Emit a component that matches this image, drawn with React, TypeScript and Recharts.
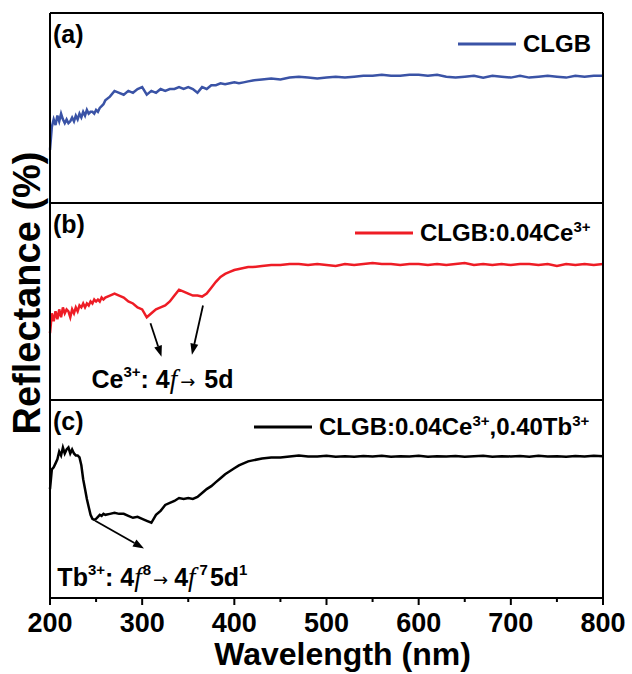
import React from "react";
import { LineChart, Line, XAxis, YAxis, ReferenceLine, ReferenceDot, Legend } from "recharts";

// wavelength grid (nm)
const wavelengths = [
  200, 202, 204, 206, 208, 210, 212, 214, 216, 218, 220, 222, 224, 226, 228, 230,
  232, 234, 236, 238, 240, 242, 244, 246, 248, 250, 252, 254, 256, 258, 260,
  265, 270, 275, 280, 285, 290, 295, 300, 305, 310, 315, 320, 325, 330, 335, 340,
  345, 350, 355, 360, 365, 370, 375, 380, 385, 390, 395, 400, 405, 410, 415, 420,
  430, 440, 450, 460, 470, 480, 490, 500, 510, 520, 530, 540, 550, 560, 570, 580,
  590, 600, 610, 620, 630, 640, 650, 660, 670, 680, 690, 700, 710, 720, 730, 740,
  750, 760, 770, 780, 790, 800,
];

// (a) CLGB
const clgb = [
  28, 40, 44, 41, 46, 43, 47, 44, 42, 44, 42, 43, 45, 43, 46, 44,
  47, 45, 48, 46, 49, 47, 48, 48, 47, 49, 48, 50, 51, 52, 54,
  56, 59, 58, 57, 59, 58, 60, 61, 57, 59, 58, 60, 59, 60, 60, 61,
  60, 61, 60, 58, 61, 60, 62, 62, 63, 62.5, 63, 63.5, 63, 63.5, 64, 64.5,
  65, 65.5, 65, 66, 66.5, 66, 65.5, 66, 66.5, 66, 66.5, 67, 67, 67.5, 67, 67,
  67.5, 67.5, 67, 67.5, 66.5, 66, 66.5, 67, 66, 67, 66.5, 66, 67, 66, 66.5, 67,
  66.5, 66, 67, 66.5, 67, 67,
];

// (b) CLGB:0.04Ce3+
const clgbCe = [
  34, 44, 40, 45, 41, 46, 42, 47, 44, 46, 45, 42, 46, 44, 47, 45,
  48, 47, 49, 47, 49, 48, 50, 49, 51, 50, 51, 50, 52, 51, 52,
  53, 54, 53, 52, 50, 49, 47, 46, 42, 44, 46, 47, 48, 50, 53, 56,
  55, 54, 53, 53, 52.5, 54, 57, 60, 62.5, 64, 65, 66, 66.5, 67, 67.5, 67.5,
  68, 68.5, 68.5, 69, 69, 68.5, 69, 68.5, 68, 69, 68.5, 69, 69.5, 69, 69, 68.5,
  69, 69, 68.5, 69, 68.5, 69, 69.5, 68.5, 69, 68.5, 69, 68.5, 69, 69, 68.5, 69,
  68, 69, 68.5, 69, 68.5, 69,
];

// (c) CLGB:0.04Ce3+,0.40Tb3+
const clgbCeTb = [
  55, 65, 66, 68, 70, 74, 72, 76, 73, 75, 76, 73, 75, 73, 72, 72,
  71, 67, 60, 55, 50, 46, 42, 40, 39.5, 40, 41, 42, 41.5, 42.5, 42,
  42.5, 43, 42.5, 42.5, 41.5, 40.5, 41, 40, 39, 38, 42, 44, 47, 48, 49, 50.5,
  50, 50.5, 50, 51, 53, 55, 56.5, 58.5, 60.5, 62.5, 64, 65.5, 67, 68, 69, 69.5,
  70.5, 71, 71, 71.5, 72, 71.5, 71.5, 71.8, 71.4, 71.6, 71.3, 71.7, 71.5, 71.8, 71.4, 71.6,
  71.5, 71.8, 71.3, 71.6, 71.5, 71.7, 71.4, 71.6, 71.8, 71.3, 71.6, 71.5, 71.7, 71.4, 71.8, 71.5,
  71.6, 71.3, 71.7, 71.5, 71.9, 71.6,
];

const xTicks = [200, 250, 300, 350, 400, 450, 500, 550, 600, 650, 700, 750, 800];

const data = wavelengths.map((w, i) => ({ w, a: clgb[i], b: clgbCe[i], c: clgbCeTb[i] }));

const FONT = "'Liberation Sans', Arial, sans-serif";
const SERIF = "'Liberation Serif', 'Times New Roman', serif";
const W = 632;

const Arrow = (p: any) => {
  const { x1, y1, x2, y2 } = p;
  const dx = x2 - x1;
  const dy = y2 - y1;
  const len = Math.sqrt(dx * dx + dy * dy) || 1;
  const ux = dx / len;
  const uy = dy / len;
  const hl = 11;
  const hw = 4;
  const bx = x2 - ux * hl;
  const by = y2 - uy * hl;
  return (
    <g>
      <line x1={x1} y1={y1} x2={bx} y2={by} stroke="#000" strokeWidth={1.8} />
      <polygon
        points={`${x2},${y2} ${bx - uy * hw},${by + ux * hw} ${bx + uy * hw},${by - ux * hw}`}
        fill="#000"
      />
    </g>
  );
};

const panelLabel = (txt: string) => (p: any) => (
  <text x={p.cx + 3} y={p.cy + 30} fontSize={25} fontWeight="bold" fill="#000" fontFamily={FONT}>
    {txt}
  </text>
);

const legendContent = (color: string, name: React.ReactNode) => () => (
  <div style={{ display: "flex", alignItems: "center", fontFamily: FONT, fontWeight: "bold", fontSize: 24, whiteSpace: "nowrap" }}>
    <svg width={58} height={6} style={{ marginRight: 7 }}>
      <line x1={0} y1={3} x2={58} y2={3} stroke={color} strokeWidth={3} />
    </svg>
    <span>{name}</span>
  </div>
);

const supStyle: React.CSSProperties = { fontSize: 15, verticalAlign: "super", lineHeight: 0 };

const CeNote = (p: any) => (
  <text x={p.cx} y={p.cy} fontSize={25} fontWeight="bold" fill="#000" fontFamily={FONT}>
    <tspan>Ce</tspan>
    <tspan dy={-11} fontSize={15}>3+</tspan>
    <tspan dy={11}>: 4</tspan>
    <tspan fontFamily={SERIF} fontStyle="italic" fontWeight="normal" fontSize={27}>f</tspan>
    <tspan fontWeight="normal" fontSize={18} fontFamily="'DejaVu Sans', sans-serif" dx={3}>→</tspan>
    <tspan dx={9}>5d</tspan>
  </text>
);

const TbNote = (p: any) => (
  <text x={p.cx} y={p.cy} fontSize={25} fontWeight="bold" fill="#000" fontFamily={FONT}>
    <tspan>Tb</tspan>
    <tspan dy={-11} fontSize={15}>3+</tspan>
    <tspan dy={11}>: 4</tspan>
    <tspan fontFamily={SERIF} fontStyle="italic" fontWeight="normal" fontSize={27}>f</tspan>
    <tspan dy={-11} fontSize={15} dx={1}>8</tspan>
    <tspan dy={11} fontWeight="normal" fontSize={18} fontFamily="'DejaVu Sans', sans-serif" dx={2}>→</tspan>
    <tspan dx={6}>4</tspan>
    <tspan fontFamily={SERIF} fontStyle="italic" fontWeight="normal" fontSize={27}>f</tspan>
    <tspan dy={-11} fontSize={15} dx={4}>7</tspan>
    <tspan dy={11} dx={2}>5d</tspan>
    <tspan dy={-11} fontSize={15}>1</tspan>
  </text>
);

const BottomTick = (p: any) => {
  const { x, y, payload } = p;
  const major = payload.value % 100 === 0;
  return (
    <g>
      <line x1={x} x2={x} y1={y} y2={y + (major ? 7 : 4)} stroke="#000" strokeWidth={2} />
      {major && (
        <text x={x} y={y + 34} textAnchor="middle" fontSize={27} fontWeight="bold" fill="#000" fontFamily={FONT}>
          {payload.value}
        </text>
      )}
    </g>
  );
};

const XTitle = (p: any) => {
  const vb = p.viewBox || {};
  return (
    <text
      x={vb.x + vb.width / 2 + 16}
      y={vb.y + 67}
      textAnchor="middle"
      fontSize={32}
      fontWeight="bold"
      fill="#000"
      fontFamily={FONT}
    >
      Wavelength (nm)
    </text>
  );
};

interface PanelProps {
  top: number;
  height: number;
  marginTop: number;
  dataKey: string;
  color: string;
  label: string;
  legend: React.ReactNode;
  legendLeft: number;
  legendTop: number;
  bottomAxis?: boolean;
  children?: React.ReactNode;
}

const border = { stroke: "#000", strokeWidth: 2 };

function Panel(props: PanelProps) {
  const { top, height, marginTop, dataKey, color, label, legend, legendLeft, legendTop, bottomAxis } = props;
  return (
    <div style={{ position: "absolute", left: 0, top }}>
      <LineChart
        width={W}
        height={height}
        data={data}
        margin={{ top: marginTop, bottom: 0, left: 49, right: 28 }}
        style={{ fontFamily: FONT }}
      >
        <XAxis
          dataKey="w"
          type="number"
          domain={[200, 800]}
          ticks={xTicks}
          interval={0}
          axisLine={border}
          tickLine={false}
          tickSize={0}
          tickMargin={0}
          tick={bottomAxis ? <BottomTick /> : false}
          height={bottomAxis ? 76 : 1}
          label={bottomAxis ? <XTitle /> : undefined}
        />
        <XAxis xAxisId="top" orientation="top" type="number" domain={[200, 800]} height={1} tick={false} tickLine={false} axisLine={border} />
        <YAxis type="number" domain={[0, 100]} width={1} tick={false} tickLine={false} axisLine={border} />
        <YAxis yAxisId="right" orientation="right" type="number" domain={[0, 100]} width={1} tick={false} tickLine={false} axisLine={border} />
        <Legend
          layout="horizontal"
          verticalAlign="middle"
          align="center"
          content={legendContent(color, legend)}
          wrapperStyle={{ left: legendLeft, top: legendTop, width: "auto", transform: "translateY(-50%)" }}
        />
        <Line dataKey={dataKey} stroke={color} strokeWidth={2.5} dot={false} isAnimationActive={false} type="linear" />
        <ReferenceDot x={200} y={100} r={0} shape={panelLabel(label)} />
        {props.children}
      </LineChart>
    </div>
  );
}

export default function App() {
  return (
    <div style={{ position: "absolute", left: 0, top: 0, width: 632, height: 674, background: "#fff", fontFamily: FONT, overflow: "hidden" }}>
      <Panel
        top={0}
        height={204}
        marginTop={12}
        dataKey="a"
        color="#3a53a6"
        label="(a)"
        legend="CLGB"
        legendLeft={458}
        legendTop={44}
      />
      <Panel
        top={202}
        height={199}
        marginTop={0}
        dataKey="b"
        color="#ee1c25"
        label="(b)"
        legend={<span>CLGB:0.04Ce<sup style={supStyle}>3+</sup></span>}
        legendLeft={355}
        legendTop={31}
      >
        <ReferenceLine segment={[{ x: 309, y: 39 }, { x: 321, y: 22 }]} shape={Arrow} />
        <ReferenceLine segment={[{ x: 366, y: 48 }, { x: 354, y: 23 }]} shape={Arrow} />
        <ReferenceDot x={245} y={6} r={0} shape={CeNote} />
      </Panel>
      <Panel
        top={399}
        height={275}
        marginTop={0}
        dataKey="c"
        color="#000000"
        label="(c)"
        legend={<span>CLGB:0.04Ce<sup style={supStyle}>3+</sup>,0.40Tb<sup style={supStyle}>3+</sup></span>}
        legendLeft={254}
        legendTop={28}
        bottomAxis
      >
        <ReferenceLine segment={[{ x: 249, y: 39 }, { x: 302, y: 25 }]} shape={Arrow} />
        <ReferenceDot x={208} y={6} r={0} shape={TbNote} />
      </Panel>
      <div
        style={{
          position: "absolute",
          left: 27,
          top: 293,
          transform: "translate(-50%, -50%) rotate(-90deg)",
          whiteSpace: "nowrap",
          fontSize: 38,
          lineHeight: 1,
          fontWeight: "bold",
          color: "#000",
        }}
      >
        Reflectance (%)
      </div>
    </div>
  );
}
